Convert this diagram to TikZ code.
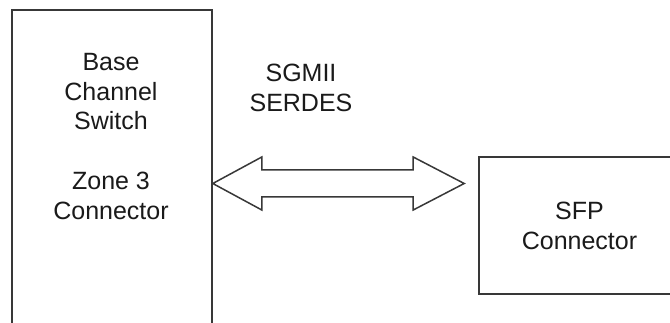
\documentclass[tikz,border=0pt]{standalone}
\usepackage{fontspec}
\setmainfont{Liberation Sans}
\usetikzlibrary{calc}
\definecolor{linec}{HTML}{383838}
\definecolor{textc}{HTML}{1A1A1A}
\tikzset{
  box/.style={draw=linec, line width=1.6pt, fill=white, inner sep=0pt},
  lbl/.style={text=textc, align=center, inner sep=0pt, font=\fontsize{25}{29.8}\selectfont},
  arrowline/.style={draw=linec, line width=1.5pt, line join=miter}
}
\begin{document}
\begin{tikzpicture}[x=1pt,y=1pt]
\clip (0,0) rectangle (670,323);
\fill[white] (0,0) rectangle (670,323);
% left box (extends below the picture)
\node[box, minimum width=200pt, minimum height=333pt] (bcs) at (112,146.5) {};
\node[lbl, anchor=north] (bcstext) at ($(bcs.north)+(-1,-43.8)$)
  {Base\\Channel\\Switch\\[29.8pt]Zone 3\\Connector};
% right box (extends beyond the right edge)
\node[box, minimum width=201pt, minimum height=136.7pt, lbl] (sfp) at (579.5,97.35)
  {SFP\\Connector};
% label above the arrow
\node[lbl, anchor=north] (serdes) at (301,258.9) {SGMII\\SERDES};
% double outline arrow
\coordinate (aL) at (bcs.east |- 0,139.5);
\coordinate (aR) at ($(sfp.west |- 0,139.5)+(-14,0)$);
\draw[arrowline] (aL) -- ++(49,26.5) -- ++(0,-13)
  -- ($(aR)+(-51,13.5)$) -- ++(0,13) -- (aR) -- ++(-51,-26.5) -- ++(0,13)
  -- ($(aL)+(49,-13.5)$) -- ++(0,-13) -- cycle;
\end{tikzpicture}
\end{document}
